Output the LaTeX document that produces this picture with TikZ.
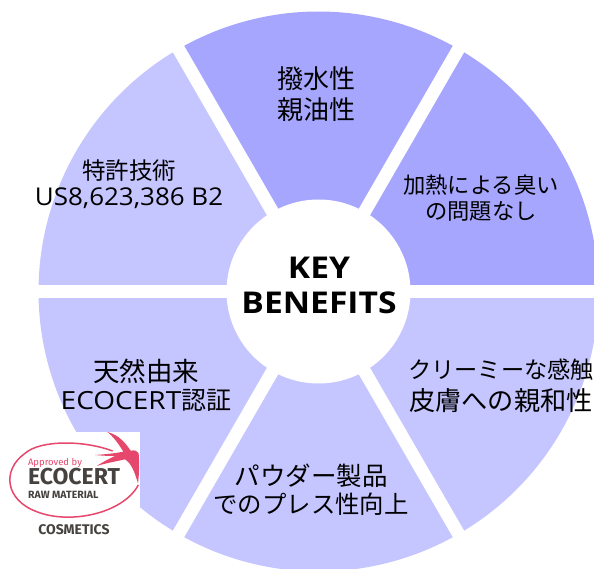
\documentclass[tikz,border=0pt]{standalone}
\usepackage{fontspec}
\setmainfont{Noto Sans CJK JP}
\newfontfamily\latfont[FakeStretch=1.06]{Open Sans}
\newfontfamily\latwide[FakeStretch=1.12]{Open Sans}
\newfontfamily\logofont{Fira Sans}
\definecolor{darkseg}{HTML}{A6A6FF}
\definecolor{lightseg}{HTML}{C5C5FF}
\definecolor{logopink}{HTML}{E5486C}
\definecolor{logogray}{HTML}{45423F}
\newcommand{\fs}[1]{\fontsize{#1pt}{#1pt}\selectfont}
\tikzset{
  wedgefill/.style={fill=#1,draw=none},
  gapline/.style={draw=white,line width=13pt},
  seglabel/.style={align=center,text=black,inner sep=0pt},
  logotext/.style={text=logogray,inner sep=0pt,font=\logofont\bfseries},
}
\begin{document}
\begin{tikzpicture}[x=1pt,y=1pt]
\useasboundingbox (0,0) rectangle (594,568);
\clip (0,0) rectangle (594,568);
\coordinate (c) at (318.5,276.5);
\def\R{280pt}
\fill[wedgefill=darkseg] (c) -- ++(60:\R) arc (60:120:\R) -- cycle;
\fill[wedgefill=darkseg] (c) -- ++(0:\R) arc (0:60:\R) -- cycle;
\fill[wedgefill=lightseg] (c) -- ++(-60:\R) arc (-60:0:\R) -- cycle;
\fill[wedgefill=lightseg] (c) -- ++(-120:\R) arc (-120:-60:\R) -- cycle;
\fill[wedgefill=lightseg] (c) -- ++(180:\R) arc (180:240:\R) -- cycle;
\fill[wedgefill=lightseg] (c) -- ++(120:\R) arc (120:180:\R) -- cycle;
\path (c) ++(0:300pt) coordinate (g0);
\path (c) ++(180:300pt) coordinate (g1);
\path (c) ++(60:300pt) coordinate (g2);
\path (c) ++(240:300pt) coordinate (g3);
\path (c) ++(120:300pt) coordinate (g4);
\path (c) ++(300:300pt) coordinate (g5);
\draw[gapline] (g0) -- (g1);
\draw[gapline] (g2) -- (g3);
\draw[gapline] (g4) -- (g5);
\fill[white] (c) circle (92pt);
\node[seglabel,font=\latwide\bfseries\fs{30}] (hub) at (319,283) {KEY\\[5pt]BENEFITS};
\node[seglabel] (a) at (316,474) {\fs{26}撥水性\\[6pt]\fs{26}親油性};
\node[seglabel] (b) at (481,370) {\fs{22.3}加熱による臭い\\[5pt]\fs{22.3}の問題なし};
\node[seglabel] (d) at (501,182) {\fs{23.2}クリーミーな感触\\[7pt]\fs{26.2}皮膚への親和性};
\node[seglabel] (e) at (311,78) {\fs{25.5}パウダー製品\\[4pt]\fs{24.4}でのプレス性向上};
\node[seglabel] (f) at (146,183) {\fs{26.5}天然由来\\[5pt]\latwide\fs{25}ECOCERT{\rmfamily\fs{25}認証}};
\node[seglabel] (g) at (129,384) {\fs{23.5}特許技術\\[5pt]\latfont\fs{24.5}US8,623,386 B2};
\fill[white] (0,0) rectangle (140,136);
\begin{scope}[shift={(0,148)},x=0.3333pt,y=-0.3333pt]
\draw[logopink,line width=1.5pt] (338,93) .. controls (250,60) and (120,60) .. (75,100) .. controls (5,150) and (15,240) .. (110,275) .. controls (210,315) and (370,280) .. (415,195);
\fill[logopink] (322,36) .. controls (360,45) and (380,75) .. (392,92) .. controls (405,90) and (413,92) .. (416,100) .. controls (418,130) and (418,160) .. (414,190) .. controls (405,160) and (395,130) .. (375,118) .. controls (345,125) and (315,130) .. (290,138) .. controls (310,125) and (330,115) .. (345,108) .. controls (325,108) and (305,107) .. (285,105) .. controls (315,103) and (345,100) .. (370,95) .. controls (355,70) and (340,50) .. (322,36) -- cycle;
\node[text=logopink,inner sep=0pt,font=\logofont\fs{9.5}] (l1) at (165,130) {Approved by};
\node[logotext,font=\logofont\bfseries\fs{23},text height=11pt,text depth=0pt] (l2) at (222,178) {ECOCERT};
\node[logotext,font=\logofont\bfseries\fs{10.5},text height=7pt,text depth=0pt] (l3) at (190,226) {RAW MATERIAL};
\node[logotext,font=\logofont\bfseries\fs{14}] (l4) at (222,330) {COSMETICS};
\end{scope}
\end{tikzpicture}
\end{document}
